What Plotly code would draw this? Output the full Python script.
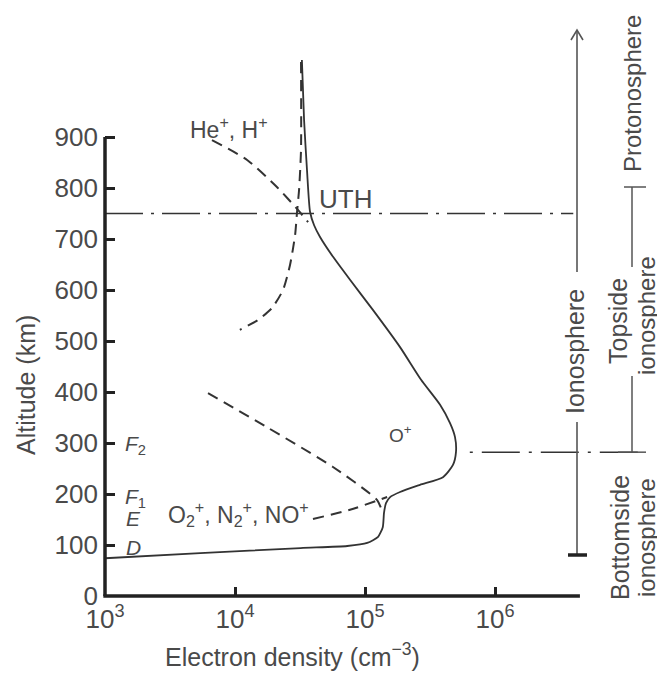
import numpy as np
import plotly.graph_objects as go

# ---------------- data ----------------
# total electron density profile (cm^-3) vs altitude (km)
ne_total = [3.27e4, 3.40e4, 3.58e4, 3.78e4, 4.06e4, 4.51e4, 5.68e4, 7.67e4, 1.15e5,
            1.86e5, 2.70e5, 3.78e5, 4.51e5, 4.92e5, 5.01e5, 4.75e5, 3.98e5, 2.65e5,
            1.86e5, 1.56e5, 1.45e5, 1.40e5, 1.37e5, 1.26e5, 1.04e5, 7.3e4, 3.2e4,
            5.4e3, 1.0e3]
alt_total = [1051, 933, 835, 753, 727, 704, 665, 620, 561, 488, 424, 375, 339, 312,
             282, 257, 233, 218, 204, 194, 182, 163, 135, 116, 104, 98, 94, 84, 74]

# light ions (He+, H+)
ne_light = [3.22e4, 3.22e4, 3.11e4, 3.00e4, 2.90e4, 2.65e4, 2.34e4, 1.93e4, 1.50e4, 1.09e4]
alt_light = [1047, 875, 796, 753, 708, 649, 600, 565, 541, 522]

# O+ above the transition height
ne_oplus_top = [6.65e3, 1.24e4, 2.10e4, 3.05e4, 3.65e4]
alt_oplus_top = [894, 855, 802, 757, 733]

# O+ in the bottomside
ne_oplus_bot = [6.2e3, 1.76e4, 5.67e4, 1.24e5, 1.37e5]
alt_oplus_bot = [398, 331, 253, 188, 163]

# molecular ions (O2+, N2+, NO+)
ne_mol = [3.98e4, 7.67e4, 1.48e5]
alt_mol = [151, 169, 194]

UTH_ALT = 750          # upper transition height
HMF2_ALT = 282         # F2 peak height
UTH_X_END = 4.0e6
HMF2_X = [6.4e5, 1.43e7]
X_AXIS_END = 4.5e6
Y_AXIS_TOP = 900

y_ticks = [0, 100, 200, 300, 400, 500, 600, 700, 800, 900]
x_ticks = [1e3, 1e4, 1e5, 1e6]
x_ticktext = ["10<sup>3</sup>", "10<sup>4</sup>", "10<sup>5</sup>", "10<sup>6</sup>"]

# ---------------- layout geometry ----------------
W, H = 665, 673
OFF = 8                      # page body margin
FW, FH = W - OFF, H - OFF
PL, PR, PT, PB = 105, 662, 10, 596   # plot area in page pixels
DEC_PX = 130.0   # pixels per decade
KM_PX = 0.51     # pixels per km
x_range = [3.0, 3.0 + (PR - PL) / DEC_PX]
y_range = [0.0, (PB - PT) / KM_PX]


def pxx(px):
    return (px - PL) / (PR - PL)


def pxy(py):
    return (PB - py) / (PB - PT)


def dx(n):
    return (np.log10(n) - x_range[0]) / (x_range[1] - x_range[0])


def dy(a):
    return (a - y_range[0]) / (y_range[1] - y_range[0])


LINE = "#333333"
AX = "#222222"
TXT = "#4a4a4a"
FONT = "Liberation Sans, Arial, sans-serif"

fig = go.Figure()

curve = dict(color=LINE, width=1.8, shape="spline", smoothing=0.6)
dashed = dict(color=LINE, width=2, dash="11px,7px", shape="spline", smoothing=0.6)

fig.add_trace(go.Scatter(x=ne_total, y=alt_total, mode="lines", line=curve))
fig.add_trace(go.Scatter(x=ne_light, y=alt_light, mode="lines", line=dashed))
fig.add_trace(go.Scatter(x=ne_oplus_top, y=alt_oplus_top, mode="lines", line=dashed))
fig.add_trace(go.Scatter(x=ne_oplus_bot, y=alt_oplus_bot, mode="lines", line=dashed))
fig.add_trace(go.Scatter(x=ne_mol, y=alt_mol, mode="lines", line=dashed))

# dash-dot reference heights
fig.add_trace(go.Scatter(x=[1e3, UTH_X_END], y=[UTH_ALT, UTH_ALT], mode="lines",
                         line=dict(color=LINE, width=1.5, dash="38px,8px,3px,8px")))
fig.add_trace(go.Scatter(x=HMF2_X, y=[HMF2_ALT, HMF2_ALT], mode="lines",
                         line=dict(color=LINE, width=1.5, dash="3px,9px,38px,9px")))

shapes = []
# axis lines
shapes.append(dict(type="line", xref="paper", yref="paper", x0=0, x1=0, y0=dy(0), y1=dy(Y_AXIS_TOP),
                   line=dict(color=AX, width=3.5)))
shapes.append(dict(type="line", xref="paper", yref="paper", x0=-0.003, x1=dx(X_AXIS_END), y0=0, y1=0,
                   line=dict(color=AX, width=3.5)))

# Ionosphere arrow / bar
IX = 577
GREY = "#555555"
shapes.append(dict(type="line", xref="paper", yref="paper", x0=pxx(IX), x1=pxx(IX), y0=pxy(31), y1=pxy(272),
                   line=dict(color=GREY, width=1.6)))
shapes.append(dict(type="line", xref="paper", yref="paper", x0=pxx(IX), x1=pxx(IX), y0=pxy(422), y1=pxy(555),
                   line=dict(color=GREY, width=1.6)))
shapes.append(dict(type="line", xref="paper", yref="paper", x0=pxx(568), x1=pxx(587), y0=pxy(555), y1=pxy(555),
                   line=dict(color=AX, width=3.5)))
shapes.append(dict(type="path", xref="paper", yref="paper",
                   path="M {:.5f},{:.5f} L {:.5f},{:.5f} L {:.5f},{:.5f}".format(
                       pxx(IX - 6), pxy(40), pxx(IX), pxy(30), pxx(IX + 6), pxy(40)),
                   line=dict(color=GREY, width=1.6)))

# right bracket
BX = 632
shapes.append(dict(type="line", xref="paper", yref="paper", x0=pxx(624), x1=pxx(646), y0=pxy(187), y1=pxy(187),
                   line=dict(color=GREY, width=1.5)))
shapes.append(dict(type="line", xref="paper", yref="paper", x0=pxx(BX), x1=pxx(BX), y0=pxy(187), y1=pxy(267),
                   line=dict(color=GREY, width=1.5)))
shapes.append(dict(type="line", xref="paper", yref="paper", x0=pxx(BX), x1=pxx(BX), y0=pxy(376), y1=pxy(452),
                   line=dict(color=GREY, width=1.5)))
shapes.append(dict(type="line", xref="paper", yref="paper", x0=pxx(618), x1=pxx(646), y0=dy(HMF2_ALT), y1=dy(HMF2_ALT),
                   line=dict(color=GREY, width=1.5)))

ann = []


def label(text, px, py, size, angle=0, xanchor="center", color=TXT):
    ann.append(dict(text=text, x=pxx(px), y=pxy(py), xref="paper", yref="paper", showarrow=False,
                    xanchor=xanchor, yanchor="middle", textangle=angle,
                    font=dict(family=FONT, size=size, color=color)))


label("He<sup>+</sup>, H<sup>+</sup>", 229, 128, 23)
label("UTH", 345, 199, 26)
label("O<sup>+</sup>", 400, 434, 19)
label("O<sub>2</sub><sup>+</sup>, N<sub>2</sub><sup>+</sup>, NO<sup>+</sup>", 238, 514, 23)
label("<i>F</i><sub>2</sub>", 123, 445, 21, xanchor="left")
label("<i>F</i><sub>1</sub>", 123, 498, 21, xanchor="left")
label("<i>E</i>", 124, 518, 21, xanchor="left")
label("<i>D</i>", 124, 547, 21, xanchor="left")
label("Ionosphere", 575, 352, 25, angle=-90)
label("Protonosphere", 632, 94, 24, angle=-90)
label("Topside", 618, 321, 25, angle=-90)
label("ionosphere", 646, 316, 24, angle=-90)
label("Bottomside", 620, 538, 25, angle=-90)
label("ionosphere", 646, 538, 24, angle=-90)
label("Altitude (km)", 26, 385, 25, angle=-90)
label("Electron density (cm<sup>\u22123</sup>)", 292, 655, 25)

fig.update_layout(
    width=FW, height=FH,
    margin=dict(l=PL - OFF, r=W - PR, t=PT - OFF, b=H - PB),
    paper_bgcolor="white", plot_bgcolor="white",
    showlegend=False,
    shapes=shapes, annotations=ann,
    xaxis=dict(type="log", range=x_range, showgrid=False, zeroline=False, showline=False,
               tickmode="array", tickvals=x_ticks, ticktext=x_ticktext,
               ticks="inside", ticklen=9, tickwidth=3, tickcolor=AX, ticklabelstandoff=5,
               tickfont=dict(family=FONT, size=26, color=TXT)),
    yaxis=dict(range=y_range, showgrid=False, zeroline=False, showline=False,
               tickmode="array", tickvals=y_ticks,
               ticks="inside", ticklen=10, tickwidth=3, tickcolor=AX, ticklabelstandoff=6,
               tickfont=dict(family=FONT, size=26, color=TXT)),
)

fig.write_html("out.html")
